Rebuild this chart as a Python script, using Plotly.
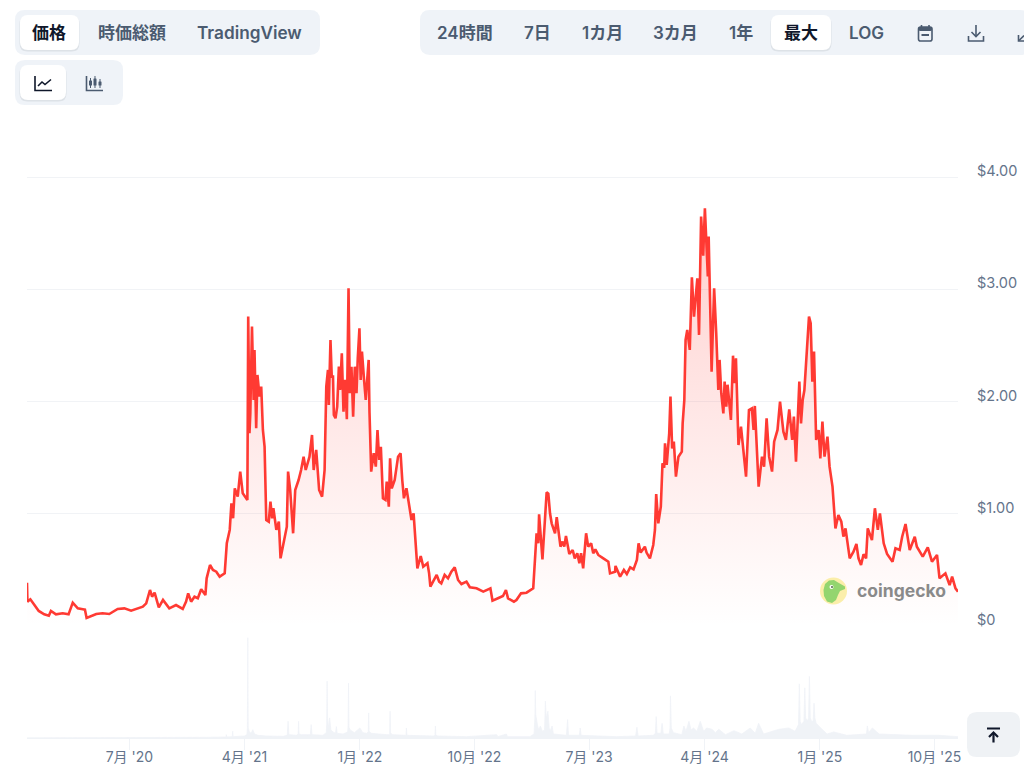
from __future__ import annotations

import pandas as pd
import plotly.graph_objects as go

WIDTH = 1024
HEIGHT = 779

START_DATE = "2019-10-31"
END_DAY = 2218

price_days = [
    0, 1, 8, 17, 28, 41, 52, 57, 69, 85, 99, 109, 121, 133, 138, 142, 165, 180, 196, 216,
    232, 248, 264, 276, 284, 293, 298, 304, 314, 324, 339, 355, 371, 379, 384, 391, 399, 407, 415, 425,
    428, 436, 443, 451, 459, 471, 476, 483, 487, 491, 495, 502, 508, 514, 525, 527, 530, 532, 536, 540,
    542, 546, 549, 554, 558, 562, 566, 570, 576, 580, 584, 587, 594, 600, 604, 611, 619, 622, 627, 634,
    639, 647, 653, 659, 664, 673, 679, 683, 689, 696, 703, 709, 713, 717, 719, 723, 726, 729, 731, 735,
    739, 743, 746, 750, 754, 758, 762, 766, 769, 773, 777, 781, 785, 788, 792, 795, 798, 803, 807, 811,
    814, 816, 818, 820, 826, 831, 835, 839, 843, 848, 854, 857, 862, 865, 869, 876, 884, 890, 894, 898,
    904, 910, 916, 921, 926, 930, 938, 944, 954, 958, 961, 968, 976, 982, 987, 995, 1003, 1011, 1019, 1027,
    1035, 1047, 1055, 1071, 1087, 1104, 1109, 1122, 1134, 1141, 1146, 1160, 1166, 1177, 1190, 1206, 1210, 1214, 1218, 1220,
    1228, 1238, 1242, 1246, 1250, 1258, 1262, 1271, 1276, 1280, 1284, 1292, 1300, 1305, 1311, 1316, 1320, 1325, 1332, 1337,
    1344, 1349, 1354, 1361, 1373, 1385, 1389, 1401, 1402, 1413, 1422, 1429, 1437, 1445, 1453, 1457, 1462, 1472, 1476, 1484,
    1492, 1496, 1499, 1504, 1510, 1514, 1518, 1520, 1524, 1530, 1533, 1537, 1541, 1546, 1552, 1560, 1562, 1566, 1569, 1573,
    1579, 1584, 1589, 1593, 1597, 1601, 1606, 1611, 1615, 1622, 1624, 1631, 1637, 1642, 1647, 1650, 1654, 1659, 1662, 1666,
    1669, 1677, 1682, 1685, 1689, 1695, 1701, 1705, 1710, 1713, 1720, 1727, 1731, 1734, 1743, 1751, 1756, 1762, 1768, 1775,
    1780, 1788, 1794, 1802, 1808, 1816, 1823, 1827, 1832, 1840, 1844, 1848, 1852, 1856, 1863, 1867, 1871, 1875, 1880, 1886,
    1890, 1895, 1900, 1907, 1912, 1919, 1926, 1933, 1940, 1945, 1950, 1960, 1969, 1976, 1981, 1987, 1993, 1999, 2003, 2013,
    2020, 2027, 2032, 2041, 2049, 2062, 2069, 2079, 2085, 2093, 2103, 2115, 2120, 2134, 2146, 2156, 2168, 2174, 2188, 2198,
    2204, 2212, 2218,
]
price_usd = [
    0.386, 0.217, 0.238, 0.196, 0.134, 0.104, 0.092, 0.134, 0.104, 0.113, 0.104, 0.208, 0.157, 0.149, 0.146, 0.071, 0.107, 0.113, 0.107, 0.152,
    0.157, 0.137, 0.157, 0.172, 0.202, 0.321, 0.261, 0.297, 0.166, 0.232, 0.157, 0.187, 0.152, 0.217, 0.291, 0.217, 0.261, 0.247, 0.327, 0.276,
    0.425, 0.544, 0.499, 0.484, 0.44, 0.469, 0.737, 0.856, 1.093, 0.96, 1.227, 1.153, 1.376, 1.182, 1.123, 2.757, 1.717, 1.895, 2.668, 2.014,
    2.46, 1.762, 2.237, 2.044, 2.133, 1.747, 1.598, 0.945, 0.93, 1.108, 0.96, 1.049, 0.856, 0.93, 0.603, 0.737, 0.885, 1.376, 1.212, 0.826,
    1.212, 1.301, 1.39, 1.509, 1.39, 1.509, 1.702, 1.39, 1.569, 1.212, 1.153, 1.39, 2.133, 2.282, 1.97, 2.549, 2.222, 2.222, 1.881, 1.851,
    1.955, 2.311, 2.103, 2.43, 1.91, 2.193, 1.842, 3.01, 2.074, 2.311, 1.866, 2.311, 2.074, 2.386, 2.653, 2.193, 2.445, 2.193, 2.014, 2.222,
    2.371, 1.9, 1.55, 1.376, 1.539, 1.42, 1.747, 1.48, 1.598, 1.138, 1.123, 1.286, 1.064, 1.494, 1.227, 1.301, 1.509, 1.539, 1.301, 1.138,
    1.227, 1.093, 0.945, 1.004, 0.707, 0.514, 0.624, 0.529, 0.559, 0.469, 0.351, 0.395, 0.455, 0.395, 0.38, 0.455, 0.425, 0.484, 0.523, 0.41,
    0.374, 0.395, 0.345, 0.336, 0.306, 0.336, 0.226, 0.247, 0.267, 0.321, 0.247, 0.217, 0.232, 0.291, 0.297, 0.336, 0.603, 0.826, 0.737, 0.995,
    0.594, 1.191, 1.18, 1.004, 0.915, 0.826, 0.969, 0.707, 0.752, 0.707, 0.802, 0.642, 0.677, 0.603, 0.648, 0.559, 0.648, 0.514, 0.826, 0.707,
    0.737, 0.648, 0.683, 0.633, 0.603, 0.573, 0.469, 0.484, 0.535, 0.44, 0.499, 0.463, 0.523, 0.505, 0.588, 0.737, 0.654, 0.707, 0.654, 0.603,
    0.722, 0.856, 1.176, 0.915, 1.064, 1.45, 1.41, 1.628, 1.435, 1.717, 2.044, 1.583, 1.643, 1.331, 1.509, 1.554, 1.806, 2.014, 2.549, 2.638,
    2.46, 3.108, 2.757, 2.95, 3.099, 2.594, 3.648, 3.3, 3.723, 3.114, 3.47, 2.267, 3.01, 2.608, 2.103, 2.371, 2.074, 1.895, 2.178, 1.955,
    2.15, 1.836, 2.409, 2.163, 2.386, 1.613, 1.777, 1.628, 1.42, 1.331, 1.925, 1.94, 1.747, 1.961, 1.242, 1.509, 1.42, 1.851, 1.509, 1.376,
    1.643, 1.747, 2.0, 1.732, 1.658, 1.931, 1.658, 1.866, 1.465, 2.178, 1.806, 2.014, 2.1, 2.341, 2.757, 2.698, 2.178, 2.445, 1.658, 1.747,
    1.494, 1.821, 1.509, 1.687, 1.42, 1.242, 0.87, 0.989, 0.93, 0.796, 0.87, 0.603, 0.662, 0.731, 0.603, 0.544, 0.64, 0.603, 0.87, 0.766,
    1.049, 0.856, 1.004, 0.737, 0.642, 0.573, 0.692, 0.677, 0.796, 0.909, 0.677, 0.796, 0.707, 0.618, 0.701, 0.573, 0.633, 0.425, 0.469, 0.365,
    0.44, 0.336, 0.306,
]

volume_days = [
    0, 252, 427, 474, 475, 476, 489, 490, 491, 518, 524, 525, 526, 527, 530, 534, 538, 542, 550, 570,
    610, 620, 622, 624, 642, 646, 647, 648, 653, 669, 675, 677, 679, 705, 713, 714, 715, 716, 718, 721,
    724, 729, 735, 737, 739, 753, 764, 765, 766, 767, 770, 780, 793, 800, 809, 813, 814, 815, 820, 856,
    864, 865, 866, 870, 900, 903, 904, 905, 968, 972, 973, 974, 979, 1047, 1119, 1122, 1127, 1142, 1145, 1158,
    1198, 1208, 1210, 1211, 1212, 1216, 1219, 1223, 1228, 1233, 1235, 1237, 1241, 1244, 1246, 1251, 1254, 1270, 1285, 1288,
    1290, 1316, 1318, 1320, 1404, 1450, 1453, 1456, 1492, 1497, 1499, 1501, 1510, 1513, 1516, 1530, 1532, 1533, 1535, 1540,
    1560, 1565, 1570, 1577, 1582, 1588, 1596, 1604, 1612, 1619, 1632, 1640, 1648, 1664, 1684, 1703, 1723, 1735, 1743, 1755,
    1791, 1815, 1830, 1838, 1840, 1842, 1845, 1851, 1853, 1855, 1859, 1862, 1864, 1866, 1869, 1873, 1875, 1877, 1880, 1891,
    1906, 1922, 1953, 2000, 2002, 2005, 2014, 2030, 2109, 2173, 2218,
]
volume_busd = [
    0.02, 0.02, 0.1, 0.15, 0.5, 0.15, 0.2, 1.0, 0.2, 0.3, 0.5, 1.5, 15.0, 1.5, 0.9, 0.7, 1.25, 0.6, 0.4, 0.3,
    0.25, 0.4, 2.5, 0.5, 0.4, 0.6, 2.5, 0.6, 0.5, 0.5, 0.5, 2.0, 0.5, 0.4, 0.8, 2.0, 8.5, 3.0, 1.5, 3.0,
    1.2, 0.9, 0.7, 1.7, 0.7, 0.6, 0.9, 2.0, 8.2, 1.6, 1.2, 0.8, 1.5, 0.8, 0.7, 0.9, 3.75, 1.0, 0.7, 0.5,
    0.5, 4.0, 0.8, 0.5, 0.4, 0.4, 1.5, 0.4, 0.3, 0.4, 1.8, 0.4, 0.3, 0.2, 0.5, 0.2, 0.3, 0.6, 0.2, 0.2,
    0.2, 0.6, 3.0, 7.1, 3.5, 2.0, 1.2, 1.8, 1.0, 1.2, 5.5, 3.0, 4.0, 1.5, 1.0, 1.8, 0.6, 0.5, 0.4, 2.75,
    0.4, 0.4, 1.5, 0.4, 0.2, 0.3, 1.6, 0.3, 0.4, 0.7, 3.2, 0.7, 0.7, 2.2, 0.6, 0.6, 1.5, 6.3, 1.5, 0.8,
    0.5, 1.8, 1.0, 2.5, 1.2, 1.5, 1.0, 2.5, 1.0, 1.5, 1.3, 0.8, 1.3, 0.5, 1.1, 0.6, 1.5, 0.7, 2.2, 0.6,
    1.3, 1.5, 1.0, 2.0, 8.1, 2.5, 2.0, 2.5, 7.5, 3.0, 2.5, 3.0, 9.2, 3.0, 2.5, 2.5, 5.2, 3.0, 2.2, 1.5,
    0.6, 0.9, 0.4, 0.6, 1.8, 0.8, 1.5, 0.6, 0.4, 0.4, 0.2,
]

price_ticks = [0, 1, 2, 3, 4]
price_tick_labels = ["$0", "$1.00", "$2.00", "$3.00", "$4.00"]
date_ticks = ["2020-07-01", "2021-04-01", "2022-01-01", "2022-10-01", "2023-07-01", "2024-04-01", "2025-01-01", "2025-10-01"]
date_tick_labels = ["7月 '20", "4月 '21", "1月 '22", "10月 '22", "7月 '23", "4月 '24", "1月 '25", "10月 '25"]

FONT = "Inter, 'Noto Sans CJK JP', sans-serif"
RED = "#ff3a33"
PANEL = "#eff3f8"
MUTED = "#4b5b70"
DARK = "#0f172a"
AXIS_TEXT = "#64748b"
GRID = "#f1f3f6"
VOLUME = "#f0f3f7"


def to_dates(days: list[int]) -> list[str]:
    stamps = pd.Timestamp(START_DATE) + pd.to_timedelta(days, unit="D")
    return [stamp.strftime("%Y-%m-%d") for stamp in stamps]


def px_x(x: float) -> float:
    return x / WIDTH


def px_y(y: float) -> float:
    return 1 - y / HEIGHT


def pt(x: float, y: float) -> str:
    return f"{px_x(x):.5f},{px_y(y):.5f}"


def rounded_rect(x0: float, y0: float, x1: float, y1: float, r: float) -> str:
    return (
        f"M{pt(x0 + r, y0)} L{pt(x1 - r, y0)} Q{pt(x1, y0)} {pt(x1, y0 + r)} "
        f"L{pt(x1, y1 - r)} Q{pt(x1, y1)} {pt(x1 - r, y1)} L{pt(x0 + r, y1)} "
        f"Q{pt(x0, y1)} {pt(x0, y1 - r)} L{pt(x0, y0 + r)} Q{pt(x0, y0)} {pt(x0 + r, y0)} Z"
    )


def polyline(points: list[tuple[float, float]], close: bool = False) -> str:
    body = " L".join(pt(x, y) for x, y in points)
    return f"M{body}" + (" Z" if close else "")


def fill_shape(path: str, color: str) -> dict:
    return {"type": "path", "xref": "paper", "yref": "paper", "path": path, "fillcolor": color, "line": {"width": 0}}


def line_shape(path: str, color: str, width: float = 1.6) -> dict:
    return {"type": "path", "xref": "paper", "yref": "paper", "path": path, "line": {"color": color, "width": width}}


def active_button(x0: float, y0: float, x1: float, y1: float) -> list[dict]:
    return [
        fill_shape(rounded_rect(x0 - 0.5, y0 + 1, x1 + 0.5, y1 + 1.5, 8), "rgba(15,23,42,0.08)"),
        fill_shape(rounded_rect(x0, y0, x1, y1, 8), "#ffffff"),
    ]


def toolbar_shapes() -> list[dict]:
    shapes = [
        fill_shape(rounded_rect(15, 10, 320, 55, 10), PANEL),
        fill_shape(rounded_rect(420, 10, 1030, 55, 10), PANEL),
        fill_shape(rounded_rect(15, 60, 123, 105, 10), PANEL),
    ]
    shapes += active_button(20, 15, 79, 50)
    shapes += active_button(771, 15, 831, 50)
    shapes += active_button(20, 65, 66, 100)

    # line chart icon
    shapes.append(line_shape(polyline([(35, 76), (35, 90.5), (52, 90.5)]), DARK))
    shapes.append(line_shape(polyline([(38, 86), (42, 82), (45, 84.5), (51, 79.5)]), DARK))
    # candlestick icon
    shapes.append(line_shape(polyline([(86.5, 76), (86.5, 90.5), (103, 90.5)]), MUTED))
    for cx, top, bottom in [(90.5, 78, 88), (95, 76, 88), (100, 79, 88)]:
        shapes.append(line_shape(polyline([(cx, top), (cx, bottom)]), MUTED, 1))
        shapes.append(fill_shape(rounded_rect(cx - 1.5, top + 2.5, cx + 1.5, bottom - 2.5, 0.5), MUTED))

    # calendar icon
    shapes.append(line_shape(rounded_rect(918.5, 27, 932, 41, 2), MUTED))
    shapes.append(fill_shape(rounded_rect(918.5, 27, 932, 31, 1.5), MUTED))
    shapes.append(line_shape(polyline([(921.5, 25), (921.5, 28)]), MUTED))
    shapes.append(line_shape(polyline([(929, 25), (929, 28)]), MUTED))
    shapes.append(line_shape(polyline([(921.5, 35), (929, 35)]), MUTED, 2))
    # download icon
    shapes.append(line_shape(polyline([(976, 25), (976, 36)]), MUTED))
    shapes.append(line_shape(polyline([(971.5, 32), (976, 36.5), (980.5, 32)]), MUTED))
    shapes.append(line_shape(polyline([(968.5, 36), (968.5, 41), (983.5, 41), (983.5, 36)]), MUTED))
    # expand icon, cut off by the window edge
    shapes.append(line_shape(polyline([(1018.5, 35), (1018.5, 41), (1024, 41)]), MUTED))
    shapes.append(line_shape(polyline([(1019, 40.5), (1024, 35.5)]), MUTED))

    # back to top button
    shapes.append(fill_shape(rounded_rect(967, 712, 1020, 757, 10), "#eff2f5"))
    shapes.append(line_shape(polyline([(987, 728.5), (1000, 728.5)]), DARK, 2))
    shapes.append(line_shape(polyline([(993.5, 733), (993.5, 742.5)]), DARK, 2.2))
    shapes.append(line_shape(polyline([(989, 737), (993.5, 732.5), (998, 737)]), DARK, 2.2))
    return shapes


def logo_shapes() -> list[dict]:
    cx, cy, r = 833.5, 591, 13.5
    gecko = [
        (825, 584), (829, 580.5), (834, 580), (838, 582.5), (845, 586.5), (845, 589),
        (840, 591), (838, 595), (836, 600), (832, 603), (827, 601.5), (824, 596), (823.5, 590),
    ]
    return [
        {
            "type": "circle", "xref": "paper", "yref": "paper",
            "x0": px_x(cx - r), "x1": px_x(cx + r), "y0": px_y(cy + r), "y1": px_y(cy - r),
            "fillcolor": "#fbeeaa", "line": {"width": 0},
        },
        fill_shape(polyline(gecko, close=True), "#93d56f"),
        {
            "type": "circle", "xref": "paper", "yref": "paper",
            "x0": px_x(829.5), "x1": px_x(833.5), "y0": px_y(589), "y1": px_y(585),
            "fillcolor": "#ffffff", "line": {"width": 0},
        },
        {
            "type": "circle", "xref": "paper", "yref": "paper",
            "x0": px_x(831), "x1": px_x(833), "y0": px_y(588), "y1": px_y(586),
            "fillcolor": "#56624f", "line": {"width": 0},
        },
    ]


def label(text: str, x: float, y: float, color: str = MUTED, size: float = 17, weight: int = 600) -> dict:
    return {
        "text": text,
        "xref": "paper",
        "yref": "paper",
        "x": px_x(x),
        "y": px_y(y),
        "xanchor": "center",
        "yanchor": "middle",
        "showarrow": False,
        "font": {"family": FONT, "size": size, "color": color, "weight": weight},
    }


fig = go.Figure()
fig.add_trace(
    go.Scatter(
        x=to_dates(volume_days),
        y=volume_busd,
        mode="lines",
        line={"color": VOLUME, "width": 0.8},
        fill="tozeroy",
        fillcolor=VOLUME,
        yaxis="y2",
        hoverinfo="skip",
        showlegend=False,
    )
)
fig.add_trace(
    go.Scatter(
        x=to_dates(price_days),
        y=price_usd,
        mode="lines",
        line={"color": RED, "width": 2.6},
        fill="tozeroy",
        fillgradient={
            "type": "vertical",
            "colorscale": [[0.0, "rgba(255,58,51,0.0)"], [1.0, "rgba(255,58,51,0.24)"]],
        },
        yaxis="y",
        showlegend=False,
    )
)

annotations = [
    label("価格", 49, 33, DARK, 17, 700),
    label("時価総額", 132, 33),
    label("TradingView", 249.5, 33, size=17.2),
    label("24時間", 465, 33),
    label("7日", 537, 33),
    label("1カ月", 602, 33),
    label("3カ月", 675, 33),
    label("1年", 741, 33),
    label("最大", 801, 33, DARK, 17, 700),
    label("LOG", 866, 33),
    label("coingecko", 901, 590, "#8a8a8a", 17.5, 700),
]

fig.update_layout(
    width=WIDTH,
    height=HEIGHT,
    margin={"l": 0, "r": 0, "t": 0, "b": 0},
    paper_bgcolor="#ffffff",
    plot_bgcolor="#ffffff",
    font={"family": FONT},
    shapes=toolbar_shapes() + logo_shapes(),
    annotations=annotations,
    xaxis={
        "domain": [px_x(27), px_x(958)],
        "anchor": "y2",
        "automargin": False,
        "type": "date",
        "range": to_dates([0, END_DAY]),
        "tickmode": "array",
        "tickvals": date_ticks,
        "ticktext": date_tick_labels,
        "ticks": "outside",
        "ticklen": 11,
        "tickcolor": VOLUME,
        "tickwidth": 1,
        "ticklabelstandoff": -5,
        "tickfont": {"family": FONT, "size": 14, "color": AXIS_TEXT},
        "showgrid": False,
        "zeroline": False,
        "showline": True,
        "linecolor": VOLUME,
    },
    yaxis={
        "domain": [px_y(626), px_y(130)],
        "range": [0, 4.42],
        "anchor": "x",
        "automargin": False,
        "side": "right",
        "tickmode": "array",
        "tickvals": price_ticks,
        "ticktext": price_tick_labels,
        "ticklabelstandoff": 18,
        "ticklabelshift": -6,
        "tickfont": {"family": FONT, "size": 14.5, "color": AXIS_TEXT},
        "ticks": "",
        "showgrid": True,
        "gridcolor": GRID,
        "gridwidth": 1,
        "zeroline": False,
        "showline": False,
    },
    yaxis2={
        "domain": [px_y(738), px_y(637)],
        "range": [0, 15.1],
        "anchor": "x",
        "automargin": False,
        "visible": False,
    },
)

fig.write_html("out.html", config={"displayModeBar": False}, post_script="document.body.style.margin='0';")
